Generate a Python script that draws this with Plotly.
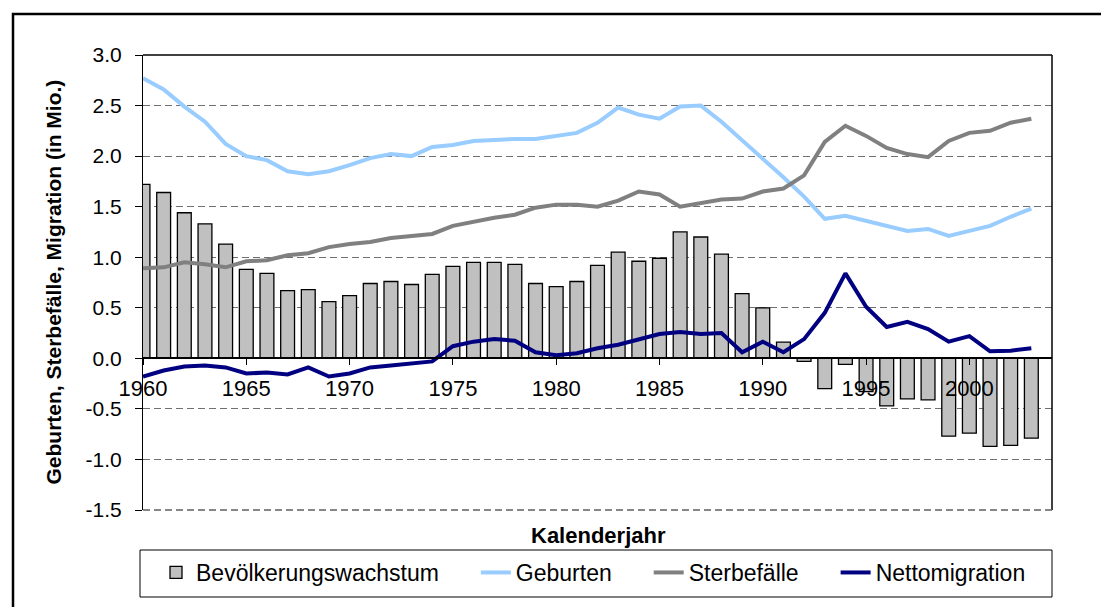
import plotly.graph_objects as go

jahre = list(range(1960, 2004))

bevoelkerungswachstum = [1.72, 1.64, 1.44, 1.33, 1.13, 0.88, 0.84, 0.67, 0.68, 0.56,
                         0.62, 0.74, 0.76, 0.73, 0.83, 0.91, 0.95, 0.95, 0.93, 0.74,
                         0.71, 0.76, 0.92, 1.05, 0.96, 0.99, 1.25, 1.20, 1.03, 0.64,
                         0.50, 0.16, -0.03, -0.30, -0.06, -0.33, -0.47, -0.40, -0.41, -0.77,
                         -0.74, -0.87, -0.86, -0.79]

geburten = [2.77, 2.66, 2.49, 2.34, 2.12, 2.00, 1.96, 1.85, 1.82, 1.85,
            1.91, 1.98, 2.02, 2.00, 2.09, 2.11, 2.15, 2.16, 2.17, 2.17,
            2.20, 2.23, 2.33, 2.48, 2.41, 2.37, 2.49, 2.50, 2.34, 2.16,
            1.98, 1.79, 1.60, 1.38, 1.41, 1.36, 1.30, 1.26, 1.28, 1.21,
            1.26, 1.31, 1.40, 1.48]

sterbefaelle = [0.89, 0.90, 0.95, 0.93, 0.90, 0.96, 0.97, 1.02, 1.04, 1.10,
                1.13, 1.15, 1.19, 1.21, 1.23, 1.31, 1.35, 1.39, 1.42, 1.49,
                1.52, 1.52, 1.50, 1.56, 1.65, 1.62, 1.50, 1.53, 1.57, 1.58,
                1.65, 1.68, 1.81, 2.14, 2.30, 2.20, 2.08, 2.02, 1.99, 2.15,
                2.23, 2.25, 2.33, 2.37]

nettomigration = [-0.18, -0.12, -0.08, -0.07, -0.09, -0.15, -0.14, -0.16, -0.09, -0.18,
                  -0.15, -0.09, -0.07, -0.05, -0.03, 0.12, 0.165, 0.19, 0.175, 0.06,
                  0.03, 0.05, 0.10, 0.135, 0.19, 0.24, 0.26, 0.24, 0.25, 0.06,
                  0.165, 0.06, 0.19, 0.45, 0.84, 0.51, 0.31, 0.36, 0.29, 0.165,
                  0.22, 0.07, 0.076, 0.10]

x_ticks = [1960, 1965, 1970, 1975, 1980, 1985, 1990, 1995, 2000]
y_ticks = [-1.5, -1.0, -0.5, 0.0, 0.5, 1.0, 1.5, 2.0, 2.5, 3.0]

FONT = "Liberation Sans, Arial, sans-serif"
GAP = "\u00a0" * 5

OFF = 8  # page body margin
W, H = 1109 - OFF, 607 - OFF
L, R, T, B = 143 - OFF, 57, 55 - OFF, 97
pw, ph = W - L - R, H - T - B


def px(xp):
    return (xp - OFF - L) / pw


def py(yp):
    return (H - B - (yp - OFF)) / ph


fig = go.Figure()
fig.add_trace(go.Bar(x=jahre, y=bevoelkerungswachstum, name="Bevölkerungswachstum" + GAP,
                     marker=dict(color="#C0C0C0", line=dict(color="#000000", width=1.3))))
fig.add_trace(go.Scatter(x=jahre, y=geburten, name="Geburten" + GAP, mode="lines",
                         line=dict(color="#99CCFF", width=4)))
fig.add_trace(go.Scatter(x=jahre, y=sterbefaelle, name="Sterbefälle" + GAP, mode="lines",
                         line=dict(color="#808080", width=4)))
fig.add_trace(go.Scatter(x=jahre, y=nettomigration, name="Nettomigration", mode="lines",
                         line=dict(color="#000080", width=4)))

fig.update_layout(
    width=W, height=H,
    margin=dict(l=L, r=R, t=T, b=B, pad=0),
    paper_bgcolor="white", plot_bgcolor="white",
    bargap=0.33,
    showlegend=True,
    font=dict(family=FONT, color="black"),
    legend=dict(orientation="h", x=px(156), xanchor="left", y=py(551), yanchor="top",
                bgcolor="rgba(0,0,0,0)", borderwidth=0,
                font=dict(family=FONT, size=23, color="black")),
    xaxis=dict(range=[1960, 2004], anchor="free", position=1.5 / 4.5,
               tickvals=x_ticks, ticktext=[str(v) for v in x_ticks],
               showline=True, linecolor="black", linewidth=1.5,
               ticks="outside", ticklen=6, tickcolor="black", tickwidth=1,
               ticklabelstandoff=5,
               showgrid=False, zeroline=False,
               tickfont=dict(family=FONT, size=22, color="black")),
    yaxis=dict(range=[-1.5, 3.0], tickvals=y_ticks, ticktext=[f"{v:.1f}" for v in y_ticks],
               showline=True, linecolor="black", linewidth=1,
               ticks="outside", ticklen=7, tickcolor="black",
               ticklabelstandoff=9,
               showgrid=True, gridcolor="#707070", gridwidth=1, griddash="7px,4px",
               zeroline=False,
               tickfont=dict(family=FONT, size=21, color="black")),
)

# plot area borders (top, right) and bottom dashed line
fig.add_shape(type="line", xref="paper", yref="paper", x0=0, x1=1, y0=1, y1=1,
              line=dict(color="black", width=1.5))
fig.add_shape(type="line", xref="paper", yref="paper", x0=1, x1=1, y0=0, y1=1,
              line=dict(color="black", width=1.5))
fig.add_shape(type="line", xref="paper", yref="paper", x0=0, x1=1, y0=0, y1=0,
              line=dict(color="#606060", width=1.5, dash="7px,4px"))
# outer frame
fig.add_shape(type="rect", xref="paper", yref="paper", x0=px(13), x1=px(1125), y0=py(625), y1=py(14),
              line=dict(color="black", width=2.5), layer="below")
# legend box
fig.add_shape(type="rect", xref="paper", yref="paper", x0=px(140), x1=px(1052), y0=py(597), y1=py(550),
              line=dict(color="black", width=1))

fig.add_annotation(text="<b>Geburten, Sterbefälle, Migration (in Mio.)</b>", textangle=-90,
                   xref="paper", yref="paper", x=px(53), y=0.5, xanchor="center", yanchor="middle",
                   showarrow=False, font=dict(family=FONT, size=21, color="black"))
fig.add_annotation(text="<b>Kalenderjahr</b>",
                   xref="paper", yref="paper", x=px(598), y=py(535), xanchor="center", yanchor="middle",
                   showarrow=False, font=dict(family=FONT, size=22, color="black"))

fig.write_html("out.html")
